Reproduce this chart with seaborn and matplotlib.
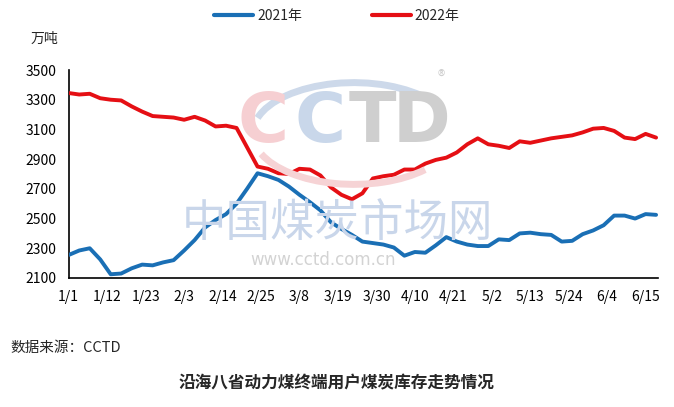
import pandas as pd
import numpy as np
import matplotlib
matplotlib.use("Agg")
import matplotlib.pyplot as plt
import seaborn as sns
from matplotlib.lines import Line2D
from matplotlib.patches import Arc

sns.set_style("white")
plt.rcParams['font.family'] = ['Noto Sans CJK SC', 'DejaVu Sans']

# 3-day samples, 1/1 .. 6/18
dates = pd.date_range("2022-01-01", "2022-06-18", freq="3D")

stock_2021 = [2255, 2285, 2300, 2225, 2125, 2130, 2165, 2190, 2185, 2205,
              2220, 2285, 2355, 2440, 2490, 2530, 2600, 2700, 2805, 2785,
              2760, 2715, 2660, 2610, 2555, 2475, 2430, 2390, 2345, 2335,
              2325, 2305, 2250, 2275, 2270, 2320, 2375, 2345, 2325, 2315,
              2315, 2360, 2355, 2400, 2405, 2395, 2390, 2345, 2350, 2395,
              2420, 2455, 2520, 2520, 2500, 2530, 2525]

stock_2022 = [3345, 3335, 3340, 3310, 3300, 3295, 3255, 3220, 3190, 3185,
              3180, 3165, 3185, 3160, 3120, 3125, 3110, 2980, 2850, 2835,
              2805, 2800, 2835, 2830, 2790, 2710, 2660, 2630, 2670, 2770,
              2785, 2795, 2830, 2830, 2870, 2895, 2910, 2945, 3000, 3040,
              3000, 2990, 2975, 3020, 3010, 3025, 3040, 3050, 3060, 3080,
              3105, 3110, 3090, 3045, 3035, 3070, 3045]

tick_labels = ["1/1", "1/12", "1/23", "2/3", "2/14", "2/25", "3/8", "3/19",
               "3/30", "4/10", "4/21", "5/2", "5/13", "5/24", "6/4", "6/15"]
y_ticks = [2100, 2300, 2500, 2700, 2900, 3100, 3300, 3500]

days = (dates - dates[0]).days
df = pd.DataFrame({
    "day": np.concatenate([days, days]),
    "stock": stock_2021 + stock_2022,
    "year": ["2021年"] * len(stock_2021) + ["2022年"] * len(stock_2022),
})

fig = plt.figure(figsize=(6.74, 4.07), dpi=100)
ax = fig.add_axes([0.102, 0.317, 0.874, 0.511])

# watermark (CCTD logo)
fig.patches.append(Arc((0.525, 0.672), 0.30, 0.25, theta1=35, theta2=165,
                       transform=fig.transFigure, color="#cdd9ea", lw=5, zorder=0))
fig.patches.append(Arc((0.525, 0.672), 0.30, 0.25, theta1=200, theta2=320,
                       transform=fig.transFigure, color="#f6d3d5", lw=5, zorder=0))
wm = dict(fontsize=50, fontweight="bold", ha="center", va="center",
          family="DejaVu Sans", zorder=0)
fig.text(0.390, 0.700, "C", color="#f6cfd2", **wm)
fig.text(0.475, 0.700, "C", color="#c9d7ea", **wm)
fig.text(0.553, 0.700, "T", color="#cfcfcf", **wm)
fig.text(0.625, 0.700, "D", color="#cfcfcf", **wm)
fig.text(0.655, 0.81, "®", fontsize=11, color="#cfcfcf", ha="center", va="center", zorder=0)
fig.text(0.50, 0.452, "中国煤炭市场网", fontsize=32, color="#c9d6ea", ha="center",
         va="center", zorder=0)
fig.text(0.48, 0.362, "www.cctd.com.cn", fontsize=12, color="#d3d3d3", ha="center",
         va="center", family="DejaVu Sans", zorder=0)

sns.lineplot(data=df, x="day", y="stock", hue="year",
             palette={"2021年": "#1a6fb5", "2022年": "#e50f14"},
             linewidth=2.8, ax=ax, legend=False, zorder=3)
ax.patch.set_alpha(0)

ax.set_xlim(0, 168.5)
ax.set_ylim(2100, 3500)
ax.set_xticks(np.arange(0, 166, 11))
ax.set_xticklabels(tick_labels)
ax.set_yticks(y_ticks)
ax.set_xlabel("")
ax.set_ylabel("")
for s in ["top", "right"]:
    ax.spines[s].set_visible(False)
for s in ["left", "bottom"]:
    ax.spines[s].set_color("black")
    ax.spines[s].set_linewidth(1.2)
ax.tick_params(axis="both", direction="in", length=5, width=1.2, labelsize=10,
               colors="black")
ax.tick_params(axis="x", pad=9)
ax.tick_params(axis="y", pad=9)

fig.text(0.086, 0.905, "万吨", fontsize=10, ha="right", va="center")

# legend
handles = [Line2D([], [], color="#1a6fb5", lw=3), Line2D([], [], color="#e50f14", lw=3)]
fig.legend(handles, ["2021年", "2022年"], loc="center", bbox_to_anchor=(0.5, 0.96),
           ncol=2, frameon=False, fontsize=10, handlelength=2.8, handletextpad=0.3,
           columnspacing=5)

fig.text(0.015, 0.145, "数据来源：CCTD", fontsize=10.5, ha="left", va="center")
fig.text(0.5, 0.058, "沿海八省动力煤终端用户煤炭库存走势情况", fontsize=12,
         fontweight="bold", ha="center", va="center")

fig.savefig("out.png", dpi=100)
